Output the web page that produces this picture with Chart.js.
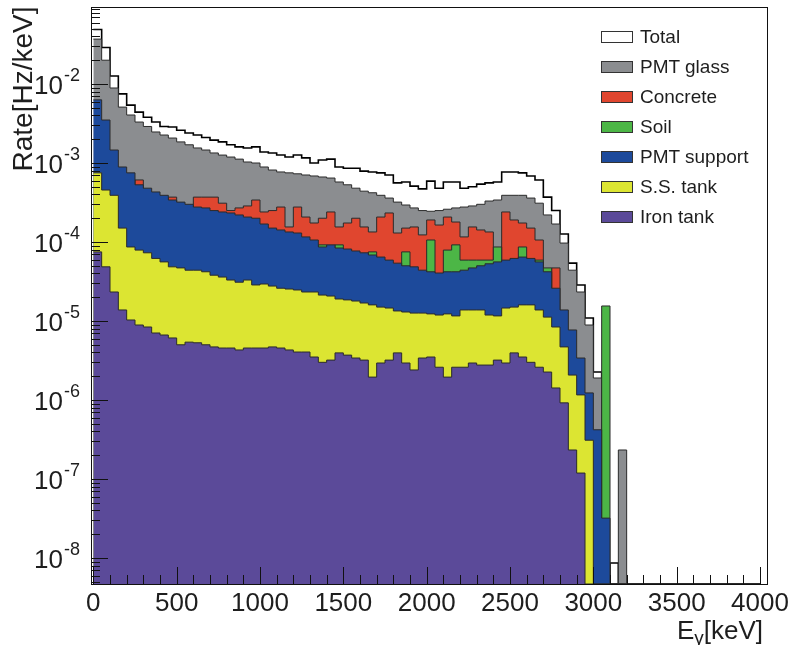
<!DOCTYPE html>
<html>
<head>
<meta charset="utf-8">
<title>Gamma-ray background rate by source</title>
<script src="https://cdn.jsdelivr.net/npm/chart.js@4.4.1/dist/chart.umd.min.js"></script>
<style>
  body { margin: 0; background: #fff; }
  #wrap { position: relative; width: 788px; height: 645px; }
  #legend {
    position: absolute; left: 601px; top: 22px;
    font: 19px 'Liberation Sans', Arial, Helvetica, sans-serif; color: #1e1e1e;
  }
  .row { display: flex; align-items: center; height: 30px; }
  .swatch { width: 30px; height: 10px; border: 1px solid #333; margin-right: 7px; }
</style>
</head>
<body>
<div id="wrap">
  <canvas id="spectrum" width="788" height="645"></canvas>
  <div id="legend"></div>
</div>
<script>
const FONT = "'Liberation Sans', Arial, Helvetica, sans-serif";
const TEXT = '#1e1e1e';

// 50 keV bins from 0 to 4000 keV
const BIN_WIDTH = 50;
const NBINS = 80;
const binEdges = Array.from({ length: NBINS + 1 }, (_, i) => i * BIN_WIDTH);

// axis ranges and tick labels
const X_MIN = -14, X_MAX = 4048;
const Y_MIN = 4.69e-9, Y_MAX = 0.0957;
const xTickValues = [0, 500, 1000, 1500, 2000, 2500, 3000, 3500, 4000];
const xTickLabels = ['0', '500', '1000', '1500', '2000', '2500', '3000', '3500', '4000'];
const yTickValues = [1e-8, 1e-7, 1e-6, 1e-5, 1e-4, 1e-3, 1e-2];
const yTickExponents = ['-8', '-7', '-6', '-5', '-4', '-3', '-2'];

// rate per bin [Hz/keV]; 0 = nothing drawn in that bin
const totalRate = [
  4.9e-2, 2.9e-2, 1.26e-2, 7.5e-3, 5.4e-3, 4.4e-3, 3.8e-3, 3.3e-3, 2.9e-3, 2.85e-3,
  2.6e-3, 2.4e-3, 2.26e-3, 2.1e-3, 1.95e-3, 1.85e-3, 1.7e-3, 1.6e-3, 1.55e-3, 1.6e-3,
  1.38e-3, 1.34e-3, 1.26e-3, 1.19e-3, 1.26e-3, 1.16e-3, 1.0e-3, 1.09e-3, 1.12e-3, 8.9e-4,
  8.6e-4, 8.6e-4, 7.9e-4, 7.7e-4, 7.5e-4, 7.05e-4, 5.6e-4, 5.75e-4, 5.1e-4, 4.7e-4,
  5.9e-4, 4.8e-4, 5.75e-4, 5.75e-4, 4.8e-4, 5.0e-4, 5.4e-4, 5.6e-4, 5.75e-4, 7.7e-4,
  7.7e-4, 7.5e-4, 6.85e-4, 6.1e-4, 3.7e-4, 2.5e-4, 1.26e-4, 5.4e-5, 2.86e-5, 1.09e-5,
  2.26e-6, 0, 8.65e-9, 0, 0, 0, 0, 0, 0, 0,
  0, 0, 0, 0, 0, 0, 0, 0, 0, 0
];
const pmtGlass = [
  3.7e-2, 2.0e-2, 8.9e-3, 5.1e-3, 4.05e-3, 3.3e-3, 2.9e-3, 2.47e-3, 2.26e-3, 2.07e-3,
  1.85e-3, 1.7e-3, 1.55e-3, 1.46e-3, 1.34e-3, 1.26e-3, 1.19e-3, 1.12e-3, 1.03e-3, 1.0e-3,
  8.9e-4, 8.15e-4, 7.7e-4, 7.5e-4, 7.3e-4, 7.05e-4, 6.85e-4, 6.65e-4, 6.45e-4, 5.75e-4,
  5.3e-4, 4.8e-4, 4.4e-4, 4.2e-4, 3.9e-4, 3.6e-4, 3.2e-4, 2.94e-4, 2.7e-4, 2.5e-4,
  2.45e-4, 2.5e-4, 2.6e-4, 2.7e-4, 2.77e-4, 2.86e-4, 3.0e-4, 3.3e-4, 3.4e-4, 3.9e-4,
  3.9e-4, 3.9e-4, 3.6e-4, 3.1e-4, 2.2e-4, 1.69e-4, 9.7e-5, 4.4e-5, 2.33e-5, 8.9e-6,
  1.9e-6, 0, 0, 2.33e-7, 0, 0, 0, 0, 0, 0,
  0, 0, 0, 0, 0, 0, 0, 0, 0, 0
];
const concrete = [
  0, 0, 0, 0, 0, 6.1e-4, 0, 0, 0, 3.7e-4,
  0, 0, 3.7e-4, 3.7e-4, 3.7e-4, 3.1e-4, 2.5e-4, 2.7e-4, 2.86e-4, 3.4e-4,
  2.4e-4, 2.5e-4, 2.77e-4, 1.55e-4, 2.77e-4, 2.07e-4, 1.74e-4, 2.0e-4, 2.4e-4, 1.55e-4,
  1.74e-4, 2.0e-4, 1.55e-4, 1.34e-4, 2.07e-4, 2.33e-4, 1.3e-4, 1.5e-4, 1.55e-4, 1.23e-4,
  1.9e-4, 1.64e-4, 2.07e-4, 1.79e-4, 1.16e-4, 1.55e-4, 1.42e-4, 1.34e-4, 0, 2.4e-4,
  1.9e-4, 1.74e-4, 1.5e-4, 1.06e-4, 0, 4.7e-5, 0, 0, 0, 0,
  0, 0, 0, 0, 0, 0, 0, 0, 0, 0,
  0, 0, 0, 0, 0, 0, 0, 0, 0, 0
];
const soil = [
  0, 0, 0, 0, 0, 0, 0, 0, 0, 0,
  0, 0, 0, 0, 0, 0, 0, 0, 0, 0,
  0, 0, 0, 0, 0, 0, 0, 9.2e-5, 0, 9.2e-5,
  0, 0, 0, 7.5e-5, 0, 0, 0, 7.5e-5, 0, 0,
  1.06e-4, 0, 7.9e-5, 9.2e-5, 5.9e-5, 5.9e-5, 5.9e-5, 5.9e-5, 8.65e-5, 0,
  0, 8.65e-5, 0, 5.9e-5, 4.7e-5, 0, 0, 0, 0, 0,
  0, 1.55e-5, 0, 0, 0, 0, 0, 0, 0, 0,
  0, 0, 0, 0, 0, 0, 0, 0, 0, 0
];
const pmtSupport = [
  6.3e-3, 3.5e-3, 1.46e-3, 8.9e-4, 7.5e-4, 5.3e-4, 4.8e-4, 4.3e-4, 3.9e-4, 3.4e-4,
  3.2e-4, 3.0e-4, 2.77e-4, 2.7e-4, 2.5e-4, 2.4e-4, 2.33e-4, 2.2e-4, 2.07e-4, 2.0e-4,
  1.69e-4, 1.5e-4, 1.42e-4, 1.34e-4, 1.3e-4, 1.16e-4, 1.06e-4, 8.65e-5, 9.2e-5, 8.4e-5,
  8.15e-5, 7.7e-5, 7.3e-5, 6.85e-5, 6.45e-5, 5.9e-5, 5.4e-5, 5.0e-5, 4.85e-5, 4.4e-5,
  4.2e-5, 4.05e-5, 4.2e-5, 4.2e-5, 4.4e-5, 4.7e-5, 5.0e-5, 5.3e-5, 5.6e-5, 5.9e-5,
  6.2e-5, 6.45e-5, 6.2e-5, 5.6e-5, 4.2e-5, 2.6e-5, 1.38e-5, 7.7e-6, 3.4e-6, 1.23e-6,
  4.2e-7, 3.2e-8, 0, 0, 0, 0, 0, 0, 0, 0,
  0, 0, 0, 0, 0, 0, 0, 0, 0, 0
];
const ssTank = [
  7.5e-4, 4.55e-4, 3.9e-4, 1.5e-4, 8.65e-5, 7.9e-5, 7.3e-5, 6.2e-5, 5.6e-5, 4.85e-5,
  4.7e-5, 4.4e-5, 4.4e-5, 4.2e-5, 3.8e-5, 3.6e-5, 3.3e-5, 3.1e-5, 3.3e-5, 2.86e-5,
  2.94e-5, 2.77e-5, 2.6e-5, 2.54e-5, 2.47e-5, 2.33e-5, 2.33e-5, 2.13e-5, 2.07e-5, 1.9e-5,
  1.85e-5, 1.79e-5, 1.69e-5, 1.6e-5, 1.5e-5, 1.46e-5, 1.34e-5, 1.3e-5, 1.26e-5, 1.26e-5,
  1.23e-5, 1.19e-5, 1.23e-5, 1.16e-5, 1.38e-5, 1.38e-5, 1.38e-5, 1.19e-5, 1.16e-5, 1.46e-5,
  1.5e-5, 1.6e-5, 1.6e-5, 1.38e-5, 1.12e-5, 8.4e-6, 4.7e-6, 2.07e-6, 1.16e-6, 3.1e-7,
  0, 0, 0, 0, 0, 0, 0, 0, 0, 0,
  0, 0, 0, 0, 0, 0, 0, 0, 0, 0
];
const ironTank = [
  7.5e-5, 4.85e-5, 2.33e-5, 1.38e-5, 1.03e-5, 8.9e-6, 8.4e-6, 7.05e-6, 6.65e-6, 6.1e-6,
  5.0e-6, 5.4e-6, 5.3e-6, 5.0e-6, 4.7e-6, 4.55e-6, 4.55e-6, 4.3e-6, 4.55e-6, 4.55e-6,
  4.55e-6, 4.7e-6, 4.55e-6, 4.3e-6, 4.05e-6, 4.05e-6, 3.5e-6, 3.0e-6, 3.2e-6, 3.95e-6,
  3.7e-6, 3.4e-6, 3.2e-6, 1.95e-6, 2.94e-6, 3.2e-6, 3.95e-6, 2.94e-6, 2.4e-6, 3.4e-6,
  3.5e-6, 2.6e-6, 1.95e-6, 2.6e-6, 2.6e-6, 2.94e-6, 2.77e-6, 2.77e-6, 3.2e-6, 2.94e-6,
  3.95e-6, 3.5e-6, 3.0e-6, 2.6e-6, 2.26e-6, 1.42e-6, 9.2e-7, 2.33e-7, 1.19e-7, 0,
  0, 0, 0, 0, 0, 0, 0, 0, 0, 0,
  0, 0, 0, 0, 0, 0, 0, 0, 0, 0
];

// drawn back to front: Total first, Iron tank last
const layers = [
  { label: 'Total',       values: totalRate,  color: '#ffffff', edge: '#000000', width: 1.6 },
  { label: 'PMT glass',   values: pmtGlass,   color: '#8b8d90', edge: '#2b2b2b', width: 1 },
  { label: 'Concrete',    values: concrete,   color: '#e0462f', edge: '#2b2b2b', width: 1 },
  { label: 'Soil',        values: soil,       color: '#4cb646', edge: '#2b2b2b', width: 1 },
  { label: 'PMT support', values: pmtSupport, color: '#1d4a9b', edge: '#2b2b2b', width: 1 },
  { label: 'S.S. tank',   values: ssTank,     color: '#dce532', edge: '#2b2b2b', width: 1 },
  { label: 'Iron tank',   values: ironTank,   color: '#5b4a99', edge: '#2b2b2b', width: 1 }
];

// log axis can't show 0, so empty bins sit on the axis floor
function histPoints(values) {
  return binEdges.map((e, k) => {
    const v = values[Math.min(k, NBINS - 1)];
    return { x: e, y: v > 0 ? v : Y_MIN };
  });
}

const datasets = layers.map((layer, i) => ({
  label: layer.label,
  data: histPoints(layer.values),
  stepped: true,
  fill: 'start',
  backgroundColor: layer.color,
  borderColor: layer.edge,
  borderWidth: layer.width,
  pointRadius: 0,
  order: layers.length - i
}));

// frame, inward ticks, 10^n labels and the x title, ROOT style
const rootAxes = {
  id: 'rootAxes',
  afterDatasetsDraw(chart) {
    const { ctx, chartArea: a, scales: { x, y } } = chart;
    ctx.save();
    ctx.strokeStyle = '#111';
    ctx.lineWidth = 1;

    ctx.beginPath();
    for (let v = 0; v <= 4000; v += 100) {
      const px = Math.round(x.getPixelForValue(v)) + 0.5;
      const len = v % 500 === 0 ? 17 : 9;
      ctx.moveTo(px, a.bottom);
      ctx.lineTo(px, a.bottom - len);
    }
    for (let d = -9; d <= -1; d++) {
      for (let m = 1; m <= 9; m++) {
        const v = m * Math.pow(10, d);
        if (v < Y_MIN || v > Y_MAX) continue;
        const py = Math.round(y.getPixelForValue(v)) + 0.5;
        ctx.moveTo(a.left, py);
        ctx.lineTo(a.left + (m === 1 ? 17 : 9), py);
      }
    }
    ctx.stroke();
    ctx.strokeRect(Math.round(a.left) + 0.5, Math.round(a.top) + 0.5,
      Math.round(a.right - a.left) - 1, Math.round(a.bottom - a.top) - 1);

    // y labels: "10" with a raised exponent
    ctx.fillStyle = TEXT;
    ctx.textAlign = 'right';
    ctx.textBaseline = 'alphabetic';
    const right = a.left - 11;
    yTickValues.forEach((v, i) => {
      const py = y.getPixelForValue(v);
      ctx.font = `18px ${FONT}`;
      const ew = ctx.measureText(yTickExponents[i]).width;
      ctx.fillText(yTickExponents[i], right, py - 3);
      ctx.font = `26px ${FONT}`;
      ctx.fillText('10', right - ew - 1, py + 10);
    });

    // x title: E with subscript gamma
    ctx.textAlign = 'left';
    ctx.font = `26px ${FONT}`;
    const wE = ctx.measureText('E').width;
    const wUnit = ctx.measureText('[keV]').width;
    ctx.font = `19px ${FONT}`;
    const wG = ctx.measureText('γ').width;
    const end = a.right - 5;
    const base = 639;
    let tx = end - wE - wG - wUnit;
    ctx.font = `26px ${FONT}`;
    ctx.fillText('E', tx, base);
    ctx.font = `19px ${FONT}`;
    ctx.fillText('γ', tx + wE, base + 5);
    ctx.font = `26px ${FONT}`;
    ctx.fillText('[keV]', tx + wE + wG, base);
    ctx.restore();
  }
};

new Chart(document.getElementById('spectrum'), {
  type: 'line',
  data: { datasets },
  options: {
    responsive: false,
    animation: false,
    events: [],
    layout: { padding: { top: 6.5, right: 20, left: 0, bottom: 0 } },
    plugins: { legend: { display: false }, tooltip: { enabled: false } },
    elements: { line: { tension: 0 } },
    scales: {
      x: {
        type: 'linear',
        min: X_MIN,
        max: X_MAX,
        bounds: 'data',
        grid: { display: false, drawTicks: false },
        border: { display: false },
        afterBuildTicks: s => { s.ticks = xTickValues.map(value => ({ value })); },
        // fixed axis height; the last label may hang past the frame
        afterFit: s => { s.height = 61; s.paddingLeft = 0; s.paddingRight = 0; },
        ticks: {
          padding: 4,
          autoSkip: false,
          maxRotation: 0,
          color: TEXT,
          font: { family: FONT, size: 26 },
          callback: v => xTickLabels[xTickValues.indexOf(v)]
        }
      },
      y: {
        type: 'logarithmic',
        min: Y_MIN,
        max: Y_MAX,
        bounds: 'data',
        grid: { display: false, drawTicks: false },
        border: { display: false },
        afterBuildTicks: s => { s.ticks = yTickValues.map(value => ({ value })); },
        afterFit: s => { s.width = 91; s.paddingTop = 0; s.paddingBottom = 0; },
        ticks: { display: false },
        title: {
          display: true,
          text: 'Rate[Hz/keV]',
          align: 'end',
          color: TEXT,
          font: { family: FONT, size: 28 },
          padding: { top: 7 }
        }
      }
    }
  },
  plugins: [rootAxes]
});

// legend box in the upper right of the frame
const legend = document.getElementById('legend');
layers.forEach(layer => {
  const row = document.createElement('div');
  row.className = 'row';
  const sw = document.createElement('span');
  sw.className = 'swatch';
  sw.style.background = layer.color;
  const label = document.createElement('span');
  label.textContent = layer.label;
  row.appendChild(sw);
  row.appendChild(label);
  legend.appendChild(row);
});
</script>
</body>
</html>
